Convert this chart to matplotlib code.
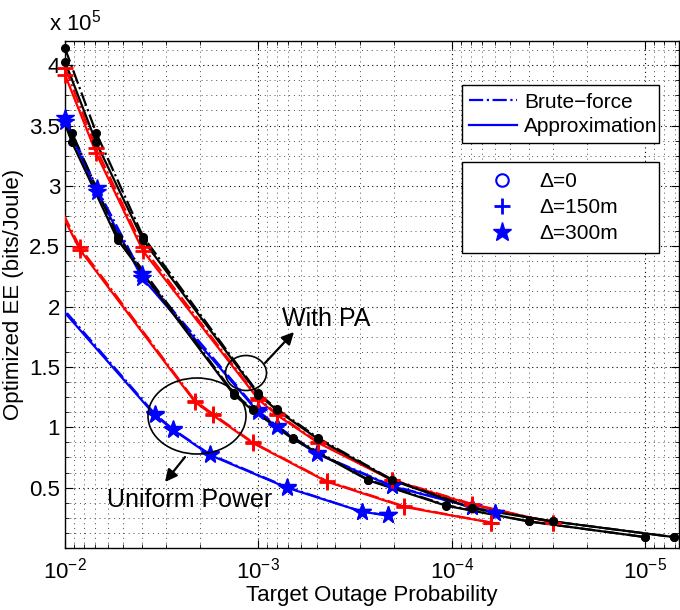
import matplotlib
matplotlib.use('Agg')
import matplotlib.pyplot as plt
from matplotlib.lines import Line2D
from matplotlib.patches import Ellipse
from matplotlib.ticker import LogLocator, MultipleLocator, NullFormatter

plt.rcParams['font.family'] = ['Liberation Sans', 'DejaVu Sans']
plt.rcParams['mathtext.fontset'] = 'custom'
plt.rcParams['mathtext.rm'] = 'Liberation Sans'
plt.rcParams['mathtext.it'] = 'Liberation Sans:italic'

# x: target outage probability, y: optimized EE in units of 1e5 bits/Joule
# "bf" = brute-force, "ap" = approximation

# with PA, delta = 0
p_pa0 = [1.0e-2, 6.9e-3, 3.95e-3, 1.0e-3, 8.0e-4, 4.9e-4, 2.03e-4, 7.9e-5, 3.0e-5, 7.1e-6]
ee_pa0_bf = [4.14, 3.44, 2.58, 1.28, 1.15, 0.91, 0.565, 0.335, 0.22, 0.09]
ee_pa0_ap = [4.03, 3.36, 2.55, 1.27, 1.14, 0.90, 0.56, 0.33, 0.22, 0.09]

# uniform power, delta = 0
p_up0 = [1.33e-2, 9.2e-3, 5.33e-3, 1.34e-3, 1.07e-3, 6.6e-4, 2.7e-4, 1.07e-4, 4.0e-5, 1.0e-5]
ee_up0_bf = [4.14, 3.44, 2.58, 1.28, 1.15, 0.91, 0.565, 0.355, 0.22, 0.09]
ee_up0_ap = [4.03, 3.36, 2.55, 1.27, 1.14, 0.90, 0.56, 0.35, 0.22, 0.09]

# with PA, delta = 150m
p_pa150 = [1.0e-2, 6.9e-3, 3.95e-3, 1.0e-3, 8.0e-4, 4.9e-4, 2.03e-4, 7.9e-5, 3.0e-5]
ee_pa150_bf = [3.98, 3.31, 2.49, 1.24, 1.11, 0.875, 0.565, 0.365, 0.21]
ee_pa150_ap = [3.92, 3.27, 2.46, 1.23, 1.10, 0.87, 0.56, 0.36, 0.21]

# uniform power, delta = 150m
p_up150 = [1.48e-2, 8.37e-3, 2.13e-3, 1.72e-3, 1.07e-3, 4.44e-4, 1.76e-4, 6.25e-5]
ee_up150_bf = [3.29, 2.49, 1.22, 1.11, 0.875, 0.555, 0.345, 0.21]
ee_up150_ap = [3.25, 2.47, 1.21, 1.10, 0.87, 0.55, 0.34, 0.21]

# with PA, delta = 300m
p_pa300 = [1.0e-2, 6.84e-3, 4.0e-3, 1.01e-3, 8.0e-4, 5.0e-4, 2.03e-4, 7.9e-5, 5.96e-5]
ee_pa300_bf = [3.56, 2.98, 2.27, 1.14, 1.01, 0.785, 0.515, 0.34, 0.29]
ee_pa300_ap = [3.53, 2.95, 2.24, 1.13, 1.00, 0.78, 0.51, 0.34, 0.29]

# uniform power, delta = 300m
p_up300 = [1.41e-2, 3.43e-3, 2.77e-3, 1.78e-3, 7.14e-4, 2.9e-4, 2.15e-4]
ee_up300_bf = [2.24, 1.11, 0.985, 0.775, 0.505, 0.30, 0.27]
ee_up300_ap = [2.22, 1.10, 0.98, 0.77, 0.50, 0.30, 0.27]

xticks = [1e-2, 1e-3, 1e-4, 1e-5]
yticks = [0.5, 1, 1.5, 2, 2.5, 3, 3.5, 4]
ytick_labels = ['0.5', '1', '1.5', '2', '2.5', '3', '3.5', '4']

fig = plt.figure(figsize=(6.8, 6.1), dpi=100)
ax = fig.add_axes([65/680, 62/610, 614/680, 507/610])


def curve(p, ee_bf, ee_ap, color, marker, ms, mfc, mew):
    # lines are clipped, markers on the left border are drawn whole (like matlab)
    for ee, ls in ((ee_bf, '-.'), (ee_ap, '-')):
        ax.plot(p, ee, color=color, ls=ls, lw=1.6, zorder=3)
        px = [p[i] for i in range(len(p)) if p[i] <= 1.0001e-2]
        py = [ee[i] for i in range(len(p)) if p[i] <= 1.0001e-2]
        ax.plot(px, py, ls='none', marker=marker, ms=ms, mfc=mfc, mec=color,
                mew=mew, clip_on=False, zorder=4)


curve(p_up300, ee_up300_bf, ee_up300_ap, 'b', '*', 13, 'b', 1)
curve(p_pa300, ee_pa300_bf, ee_pa300_ap, 'b', '*', 13, 'b', 1)
curve(p_up150, ee_up150_bf, ee_up150_ap, 'r', '+', 12, 'r', 2)
curve(p_pa150, ee_pa150_bf, ee_pa150_ap, 'r', '+', 12, 'r', 2)
curve(p_up0, ee_up0_bf, ee_up0_ap, 'k', 'o', 5.5, 'k', 1)
curve(p_pa0, ee_pa0_bf, ee_pa0_ap, 'k', 'o', 5.5, 'k', 1)

ax.set_xscale('log')
ax.set_xlim(1e-2, 6.7e-6)
ax.set_ylim(0, 4.2)
ax.set_xticks(xticks)
ax.xaxis.set_minor_locator(LogLocator(base=10, subs=range(2, 10), numticks=20))
ax.xaxis.set_minor_formatter(NullFormatter())
ax.set_yticks(yticks)
ax.set_yticklabels(ytick_labels)
ax.yaxis.set_minor_locator(MultipleLocator(0.125))
ax.tick_params(which='both', direction='in', top=True, right=True, labelsize=16)
ax.tick_params(axis='x', which='major', pad=7)
ax.tick_params(which='major', length=6, width=0.8)
ax.tick_params(which='minor', length=3, width=0.6)
ax.grid(which='major', ls=(0, (1, 3)), lw=0.8, color='k')
ax.grid(which='minor', ls=(0, (1, 4)), lw=0.7, color='0.3')
ax.set_axisbelow(True)
for s in ax.spines.values():
    s.set_linewidth(1)

ax.set_xlabel('Target Outage Probability', fontsize=16, labelpad=1)
ax.set_ylabel('Optimized EE (bits/Joule)', fontsize=16, labelpad=4)
fig.text(49/680, 1 - 30/610, r'x $\mathregular{10^{5}}$', fontsize=16, va='baseline')

# legends
h1 = [Line2D([], [], color='b', ls='-.', lw=1.6),
      Line2D([], [], color='b', ls='-', lw=1.6)]
leg1 = ax.legend(h1, ['Brute\u2212force', 'Approximation'], loc='upper left',
                 bbox_to_anchor=(0.629, 0.805, 0.355, 0.128), mode='expand',
                 fontsize=15, handlelength=2.3, handletextpad=0.35,
                 labelspacing=0.25, borderpad=0.35, fancybox=False,
                 framealpha=1, edgecolor='k')
leg1.get_frame().set_linewidth(1)
ax.add_artist(leg1)

h2 = [Line2D([], [], ls='none', marker='o', ms=9, mfc='none', mec='b', mew=1.5),
      Line2D([], [], ls='none', marker='+', ms=11, mec='b', mew=2),
      Line2D([], [], ls='none', marker='*', ms=14, mfc='b', mec='b')]
leg2 = ax.legend(h2, ['\u0394=0', '\u0394=150m', '\u0394=300m'], loc='upper left',
                 bbox_to_anchor=(0.629, 0.586, 0.355, 0.195), mode='expand',
                 fontsize=15, handlelength=3.0, handletextpad=0.3,
                 labelspacing=0.35, borderpad=0.45, fancybox=False,
                 framealpha=1, edgecolor='k')
leg2.get_frame().set_linewidth(1)

# annotations
fig.add_artist(Ellipse((246/680, 1 - 373/610), 41/680, 35/610,
                       transform=fig.transFigure, fill=False, ec='k', lw=1.2))
fig.add_artist(Ellipse((197/680, 1 - 416/610), 98/680, 76/610,
                       transform=fig.transFigure, fill=False, ec='k', lw=1.2))
ax.annotate('', xy=(294/680, 1 - 332/610), xytext=(265/680, 1 - 363/610),
            xycoords='figure fraction', textcoords='figure fraction',
            arrowprops=dict(arrowstyle='-|>', color='k', lw=1.6,
                            mutation_scale=18, shrinkA=0, shrinkB=0))
ax.annotate('', xy=(165/680, 1 - 482/610), xytext=(185/680, 1 - 457/610),
            xycoords='figure fraction', textcoords='figure fraction',
            arrowprops=dict(arrowstyle='-|>', color='k', lw=1.6,
                            mutation_scale=18, shrinkA=0, shrinkB=0))
fig.text(282/680, 1 - 319/610, 'With PA', fontsize=18, ha='left', va='center')
fig.text(107/680, 1 - 500/610, 'Uniform Power', fontsize=18, ha='left', va='center')

fig.savefig('out.png', dpi=100)
